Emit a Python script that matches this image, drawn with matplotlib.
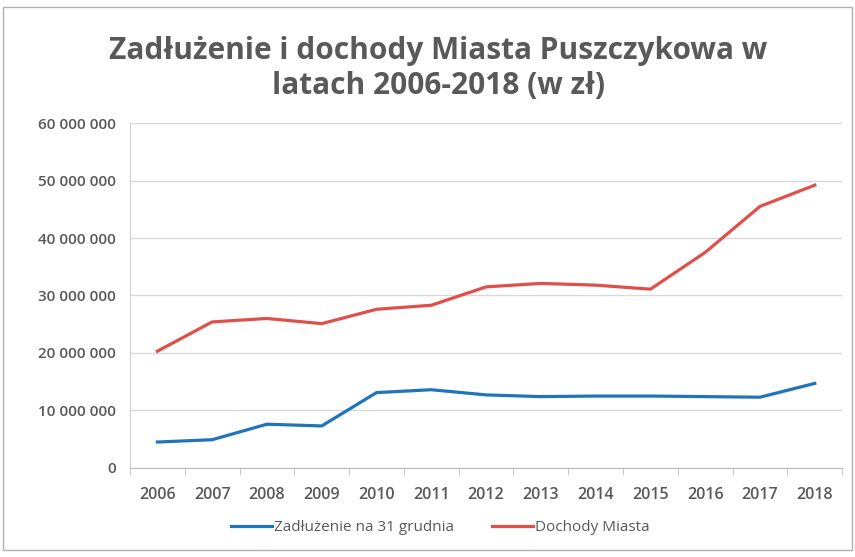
import numpy as np
import matplotlib.pyplot as plt
from matplotlib.ticker import FuncFormatter, FixedLocator
from matplotlib.patches import Rectangle

plt.rcParams['font.family'] = ['Open Sans', 'DejaVu Sans']

years = ['2006', '2007', '2008', '2009', '2010', '2011', '2012',
         '2013', '2014', '2015', '2016', '2017', '2018']
zadluzenie = [4.5e6, 4.9e6, 7.6e6, 7.3e6, 13.1e6, 13.6e6, 12.7e6,
              12.4e6, 12.5e6, 12.5e6, 12.4e6, 12.3e6, 14.7e6]
dochody = [20.3e6, 25.4e6, 26.0e6, 25.1e6, 27.6e6, 28.3e6, 31.5e6,
           32.1e6, 31.8e6, 31.1e6, 37.5e6, 45.5e6, 49.2e6]

txt = '#595959'
fig = plt.figure(figsize=(8.55, 5.57), dpi=100)
ax = fig.add_axes([0.152, 0.160, 0.833, 0.619])

x = np.arange(len(years))
ax.plot(x, zadluzenie, color='#1f74bb', lw=2.3, label='Zadłużenie na 31 grudnia')
ax.plot(x, dochody, color='#e0504a', lw=2.3, label='Dochody Miasta')

ax.set_xlim(-0.5, len(years) - 0.5)
ax.set_ylim(0, 60e6)
ax.set_yticks(np.arange(0, 60e6 + 1, 10e6))
ax.yaxis.set_major_formatter(FuncFormatter(lambda v, p: '{:,.0f}'.format(v).replace(',', ' ')))
ax.set_xticks(x)
ax.set_xticklabels(years)
ax.xaxis.set_minor_locator(FixedLocator(np.arange(-0.5, len(years), 1)))
ax.tick_params(axis='x', which='major', length=0, pad=14, labelsize=11.5, labelcolor=txt)
ax.tick_params(axis='x', which='minor', length=5, color='#bfbfbf')
ax.tick_params(axis='y', length=0, pad=10, labelsize=11, labelcolor=txt)
for lab in ax.get_xticklabels() + ax.get_yticklabels():
    lab.set_fontweight('semibold')

ax.grid(axis='y', color='#d9d9d9', lw=1)
ax.set_axisbelow(True)
for s in ['top', 'right']:
    ax.spines[s].set_visible(False)
ax.spines['left'].set_color('#d0d0d0')
ax.spines['bottom'].set_color('#bfbfbf')

# two-line title, Excel style
fig.text(0.513, 0.877, 'Zadłużenie i dochody Miasta Puszczykowa w\nlatach 2006-2018 (w zł)',
         ha='center', va='center', fontsize=21.5, fontweight='bold', color=txt, linespacing=1.2)

leg = fig.legend(loc='center', bbox_to_anchor=(0.515, 0.053), ncol=2, frameon=False,
                 fontsize=11, handlelength=2.7, handletextpad=0.1, columnspacing=2.5)
for t in leg.get_texts():
    t.set_color(txt)

fig.patches.append(Rectangle((0.003, 0.012), 0.994, 0.975, transform=fig.transFigure,
                             fill=False, edgecolor='#b0b0b0', lw=1))

fig.savefig('out.png', dpi=100)
